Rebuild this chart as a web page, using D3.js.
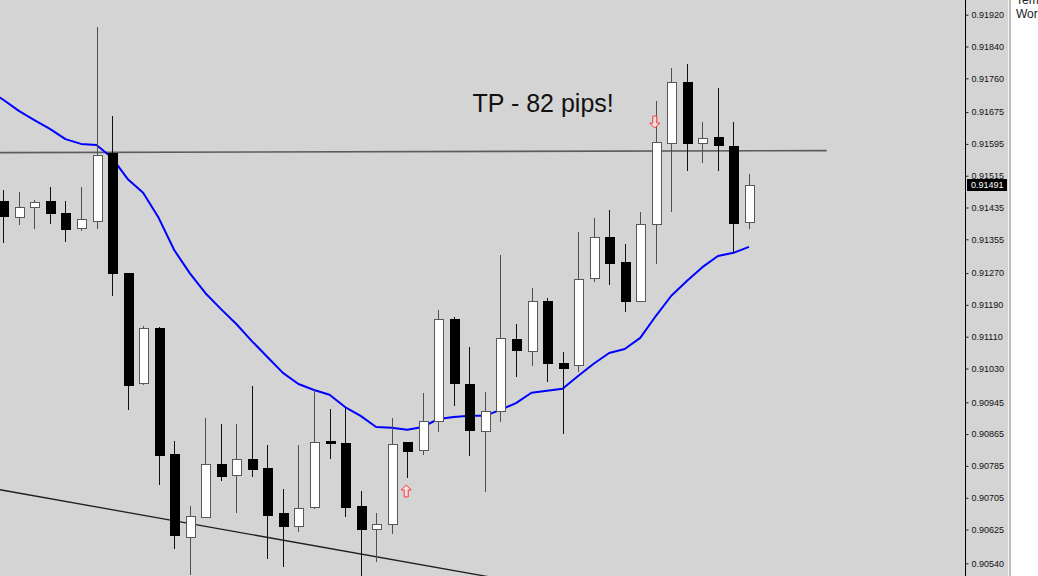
<!DOCTYPE html>
<html lang="en">
  <head>
    <meta charset="UTF-8" />
    <script src="https://cdn.jsdelivr.net/npm/d3@7"></script>
    <style>
      * {
        margin: 0;
        padding: 0;
      }
      body {
        background: #fff;
        overflow: hidden;
      }
      #container svg {
        display: block;
      }
    </style>
    <title>TP - 82 pips</title>
  </head>
  <body>
    <div id="container"></div>
  </body>
  <script>
    // OHLC, one entry per candle (left to right)
    const opens = [
      0.91452, 0.91411, 0.91436, 0.91452, 0.91421, 0.91384, 0.91401, 0.91572, 0.9127, 0.90994,
      0.91132, 0.90815, 0.90606, 0.90657, 0.9079, 0.90762, 0.90803, 0.9078, 0.90667, 0.90634,
      0.90682, 0.90848, 0.90843, 0.90684, 0.90627, 0.90639, 0.90845, 0.90825, 0.90898, 0.91155,
      0.90991, 0.90873, 0.90923, 0.91104, 0.91074, 0.912, 0.91044, 0.91039, 0.91258, 0.91361,
      0.91298, 0.912, 0.91394, 0.91597, 0.91751, 0.91597, 0.91612, 0.9159, 0.91399,
    ];
    const highs = [
      0.91479, 0.91474, 0.91454, 0.91487, 0.91452, 0.91487, 0.91889, 0.91665, 0.9127, 0.91137,
      0.91135, 0.90848, 0.90684, 0.90906, 0.90891, 0.90891, 0.90986, 0.90838, 0.90727, 0.90838,
      0.90976, 0.90928, 0.90931, 0.90722, 0.90667, 0.90906, 0.90845, 0.90969, 0.91177, 0.9116,
      0.91084, 0.90971, 0.91316, 0.91142, 0.91233, 0.91208, 0.91072, 0.91374, 0.91409, 0.91429,
      0.91343, 0.91424, 0.91703, 0.91786, 0.91796, 0.9165, 0.91736, 0.9165, 0.91519,
    ];
    const lows = [
      0.91346, 0.91391, 0.91381, 0.91394, 0.91348, 0.91376, 0.91381, 0.91213, 0.90926, 0.90989,
      0.90737, 0.90576, 0.90511, 0.90654, 0.90747, 0.90667, 0.90757, 0.90551, 0.90531, 0.90619,
      0.90677, 0.90803, 0.90657, 0.90509, 0.90544, 0.90614, 0.90755, 0.90813, 0.90871, 0.90936,
      0.9081, 0.9072, 0.90896, 0.91009, 0.91037, 0.90996, 0.90866, 0.91021, 0.91248, 0.9124,
      0.91172, 0.91197, 0.91293, 0.91424, 0.91527, 0.91547, 0.91527, 0.91321, 0.91381,
    ];
    const closes = [
      0.91414, 0.91436, 0.91449, 0.91421, 0.91381, 0.91406, 0.91567, 0.9127, 0.90989, 0.91132,
      0.90813, 0.90612, 0.90659, 0.9079, 0.9076, 0.90803, 0.90778, 0.90662, 0.90634, 0.90679,
      0.90845, 0.90843, 0.90682, 0.90627, 0.90639, 0.9084, 0.90823, 0.90898, 0.91155, 0.90994,
      0.90876, 0.90923, 0.91107, 0.91077, 0.912, 0.91044, 0.91032, 0.91255, 0.91361, 0.91296,
      0.912, 0.91394, 0.916, 0.91751, 0.91597, 0.9161, 0.91592, 0.91396, 0.91491,
    ];

    // moving average, starts one candle left of the first visible one
    const maStart = -1;
    const maValues = [
      0.91731, 0.91706, 0.91678, 0.91655, 0.91633, 0.91607, 0.91595, 0.91592, 0.9156, 0.91507, 0.91472,
      0.91409, 0.91328, 0.9127, 0.9122, 0.9118, 0.91142, 0.91099, 0.91059, 0.91019, 0.90991,
      0.90976, 0.90964, 0.90933, 0.90911, 0.90883, 0.90881, 0.90876, 0.90883, 0.90903, 0.90908,
      0.90911, 0.90911, 0.90926, 0.90943, 0.90969, 0.90974, 0.90979, 0.91011, 0.91042, 0.91069,
      0.91079, 0.91107, 0.91162, 0.91213, 0.9125, 0.91285, 0.91313, 0.91321, 0.91336,
    ];

    const yTicks = [
      0.9192, 0.9184, 0.9176, 0.91675, 0.91595, 0.91515, 0.91435, 0.91355, 0.9127,
      0.9119, 0.9111, 0.9103, 0.90945, 0.90865, 0.90785, 0.90705, 0.90625, 0.9054,
    ];

    // drawn objects: [candle index, price]
    const tpLine = [[-0.21, 0.91573], [53.0, 0.91578]];
    const trendLine = [[-0.21, 0.90725], [35, 0.9048]];
    const upArrows = [[26, 0.90722]];
    const downArrows = [[42, 0.9165]];
    const lastPrice = 0.91491;
    const note = { text: 'TP - 82 pips!', index: 30.2, price: 0.91675 };
    const sideTexts = ['Tem', 'Wor'];

    const width = 1038;
    const height = 576;
    const axisX = 965;
    const panelX = 1008;
    const bodyHalf = 4.5;

    const candles = opens.map((o, i) => ({
      i,
      o,
      h: highs[i],
      l: lows[i],
      c: closes[i],
      up: closes[i] > opens[i],
    }));

    const x = d3.scaleLinear().domain([0, 48]).range([3.3, 749]);
    const y = d3.scaleLinear().domain([0.9054, 0.9192]).range([563.3, 14.7]);
    const px = (i) => Math.round(x(i)) + 0.5;

    const svg = d3
      .select('#container')
      .append('svg')
      .attr('width', width)
      .attr('height', height)
      .style('font-family', '"Liberation Sans", Arial, sans-serif');

    // backgrounds
    svg.append('rect').attr('width', width).attr('height', height).attr('fill', '#fff');
    svg.append('rect').attr('width', panelX).attr('height', height).attr('fill', '#d4d4d4');
    svg.append('rect').attr('x', panelX).attr('width', 1).attr('height', height).attr('fill', '#f4f4f4');
    svg.append('rect').attr('x', panelX + 1).attr('width', 2).attr('height', height).attr('fill', '#bdbdbd');

    svg
      .append('clipPath')
      .attr('id', 'plot')
      .append('rect')
      .attr('width', axisX)
      .attr('height', height);

    const plot = svg.append('g').attr('clip-path', 'url(#plot)');

    const line = d3
      .line()
      .x((d) => x(d[0]))
      .y((d) => y(d[1]));

    //tp line + trend line
    plot
      .append('path')
      .attr('d', line(tpLine))
      .attr('stroke', '#5c5c5c')
      .attr('stroke-width', 1.6)
      .attr('fill', 'none');

    plot
      .append('path')
      .attr('d', line(trendLine))
      .attr('stroke', '#1e1e1e')
      .attr('stroke-width', 1.3)
      .attr('fill', 'none');

    //moving average
    plot
      .append('path')
      .attr('d', line(maValues.map((v, k) => [k + maStart, v])))
      .attr('stroke', '#0000ff')
      .attr('stroke-width', 2)
      .attr('stroke-linejoin', 'round')
      .attr('fill', 'none');

    //wicks
    plot
      .append('g')
      .selectAll('line')
      .data(candles)
      .join('line')
      .attr('x1', (d) => px(d.i))
      .attr('x2', (d) => px(d.i))
      .attr('y1', (d) => Math.round(y(d.h)))
      .attr('y2', (d) => Math.round(y(d.l)))
      .attr('stroke', (d) => (d.up ? '#505050' : '#111'))
      .attr('stroke-width', 1)
      .attr('shape-rendering', 'crispEdges');

    //bodies
    plot
      .append('g')
      .selectAll('rect')
      .data(candles)
      .join('rect')
      .attr('x', (d) => px(d.i) - bodyHalf)
      .attr('y', (d) => Math.round(y(Math.max(d.o, d.c))) + 0.5)
      .attr('width', bodyHalf * 2)
      .attr('height', (d) => Math.max(1, Math.round(y(Math.min(d.o, d.c))) - Math.round(y(Math.max(d.o, d.c)))))
      .attr('fill', (d) => (d.up ? '#fff' : '#000'))
      .attr('stroke', (d) => (d.up ? '#585858' : '#000'))
      .attr('stroke-width', 1)
      .attr('shape-rendering', 'crispEdges');

    //arrows
    const arrowPath = (cx, cy, dir) => {
      const s = dir; // -1 up, 1 down
      const pts = [
        [0, 6 * s],
        [-5, 1 * s],
        [-2, 1 * s],
        [-2, -6 * s],
        [2, -6 * s],
        [2, 1 * s],
        [5, 1 * s],
      ];
      return 'M' + pts.map((p) => [cx + p[0], cy + p[1]].join(',')).join('L') + 'Z';
    };

    plot
      .append('g')
      .selectAll('path')
      .data(upArrows.map((d) => ({ d, dir: -1 })).concat(downArrows.map((d) => ({ d, dir: 1 }))))
      .join('path')
      .attr('d', (a) => arrowPath(x(a.d[0]) - 1, y(a.d[1]), a.dir))
      .attr('fill', '#f6dede')
      .attr('stroke', '#f03c3c')
      .attr('stroke-width', 1);

    //annotation
    plot
      .append('text')
      .attr('x', x(note.index))
      .attr('y', y(note.price))
      .attr('font-size', 25)
      .attr('fill', '#111')
      .text(note.text);

    //price axis
    svg
      .append('line')
      .attr('x1', axisX + 0.5)
      .attr('x2', axisX + 0.5)
      .attr('y1', 0)
      .attr('y2', height)
      .attr('stroke', '#000');

    const axis = svg
      .append('g')
      .attr('transform', `translate(${axisX + 0.5},0)`)
      .call(
        d3
          .axisRight(y)
          .tickValues(yTicks)
          .tickSize(3)
          .tickPadding(3)
          .tickFormat(d3.format('.5f'))
      );
    axis.select('.domain').remove();
    axis
      .selectAll('text')
      .attr('font-size', 9)
      .attr('font-family', '"Liberation Sans", Arial, sans-serif')
      .attr('fill', '#111');
    axis.selectAll('line').attr('stroke', '#222');

    //last price tag
    const lp = svg.append('g').attr('transform', `translate(${axisX + 2},${Math.round(y(lastPrice))})`);
    lp.append('rect').attr('x', 0).attr('y', -6).attr('width', 40).attr('height', 12).attr('fill', '#000');
    lp.append('text')
      .attr('x', 4)
      .attr('y', 0)
      .attr('dy', '0.34em')
      .attr('font-size', 9)
      .attr('fill', '#fff')
      .text(d3.format('.5f')(lastPrice));

    //side panel labels (top one is cut by the window edge, as in the original)
    svg
      .append('g')
      .selectAll('text')
      .data(sideTexts)
      .join('text')
      .attr('x', panelX + 8)
      .attr('y', (d, i) => 4 + i * 14)
      .attr('font-size', 12)
      .attr('fill', '#222')
      .text((d) => d);
  </script>
</html>
